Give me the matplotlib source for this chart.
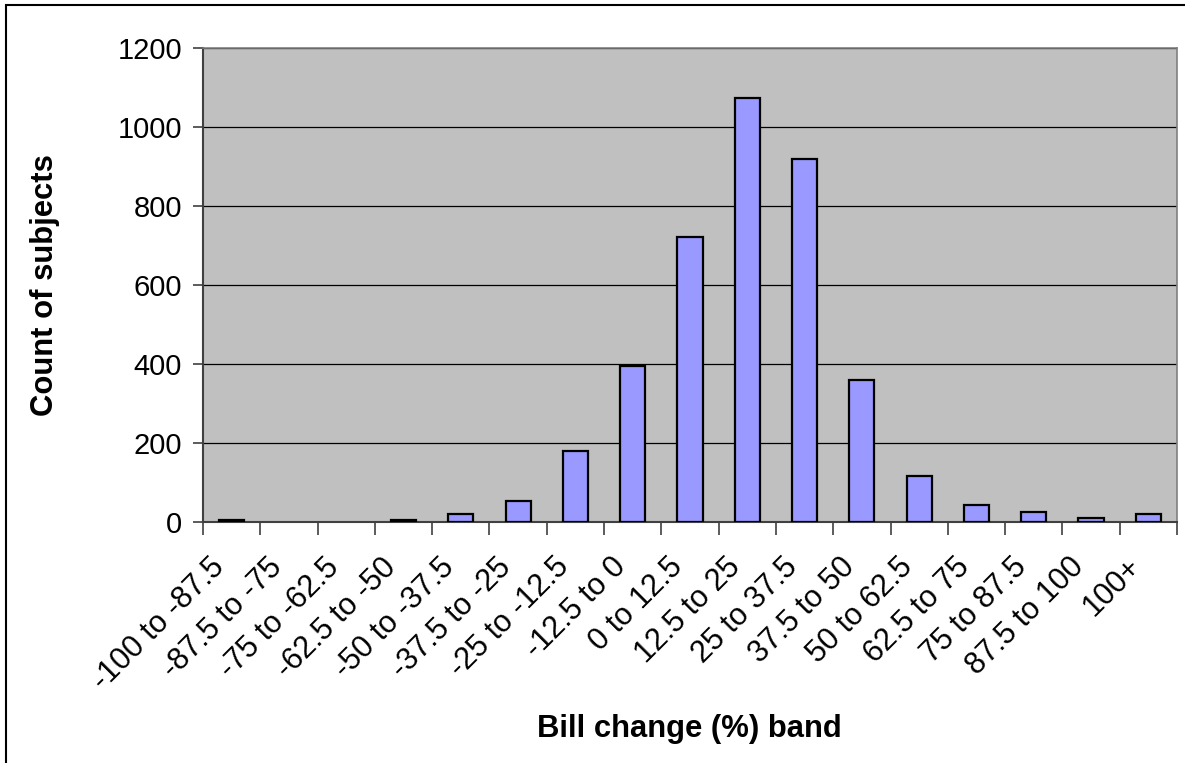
import matplotlib
matplotlib.use("Agg")
import matplotlib.pyplot as plt
from matplotlib.patches import Rectangle

categories = ["-100 to -87.5", "-87.5 to -75", "-75 to -62.5", "-62.5 to -50",
              "-50 to -37.5", "-37.5 to -25", "-25 to -12.5", "-12.5 to 0",
              "0 to 12.5", "12.5 to 25", "25 to 37.5", "37.5 to 50",
              "50 to 62.5", "62.5 to 75", "75 to 87.5", "87.5 to 100", "100+"]
counts = [4, 0, 0, 4, 20, 53, 180, 396, 722, 1073, 919, 359, 117, 44, 25, 10, 20]
yticks = [0, 200, 400, 600, 800, 1000, 1200]

plt.rcParams['font.family'] = ['Liberation Sans', 'DejaVu Sans']

W, H = 1185, 763
fig = plt.figure(figsize=(W / 100, H / 100), dpi=100)
ax = fig.add_axes([203 / W, 1 - 522 / H, (1177 - 203) / W, (522 - 48) / H])
ax.set_facecolor('#c0c0c0')

x = list(range(len(categories)))
edges = ['black' if c > 0 else 'none' for c in counts]
ax.bar(x, counts, width=0.44, color='#9999ff', edgecolor=edges, linewidth=1.6, zorder=3)

ax.set_xlim(-0.5, len(categories) - 0.5)
ax.set_ylim(0, 1200)
ax.set_yticks(yticks)
ax.set_yticklabels([str(v) for v in yticks], fontsize=21)
ax.yaxis.grid(True, color='black', linewidth=0.9, zorder=0)
ax.set_axisbelow(True)

# category boundary ticks
ax.set_xticks([i - 0.5 for i in range(len(categories) + 1)])
ax.set_xticklabels([])
ax.tick_params(axis='x', direction='out', length=9, width=1.2, color='#404040')
ax.tick_params(axis='y', direction='out', length=7, width=1.2, color='#404040', pad=8)
for i, lab in enumerate(categories):
    ax.text(i - 0.384, -76, lab, rotation=45, ha='right', va='top',
            rotation_mode='anchor', fontsize=22, transform=ax.transData)

for s in ['top', 'right']:
    ax.spines[s].set_color('#808080')
    ax.spines[s].set_linewidth(1.2)
for s in ['left', 'bottom']:
    ax.spines[s].set_color('#404040')
    ax.spines[s].set_linewidth(1.5)

fig.text(689 / W, 1 - 729 / H, "Bill change (%) band", ha='center', va='center',
         fontsize=22.3, fontweight='bold')
fig.text(45 / W, 1 - 285 / H, "Count of subjects", ha='center', va='center',
         rotation=90, fontsize=22.3, fontweight='bold')

# outer chart border
fig.patches.append(Rectangle((6 / W, -0.05), 1.2, 1 - 5 / H + 0.05, transform=fig.transFigure,
                             fill=False, edgecolor='black', linewidth=1.5))

fig.savefig("out.png", dpi=100)
